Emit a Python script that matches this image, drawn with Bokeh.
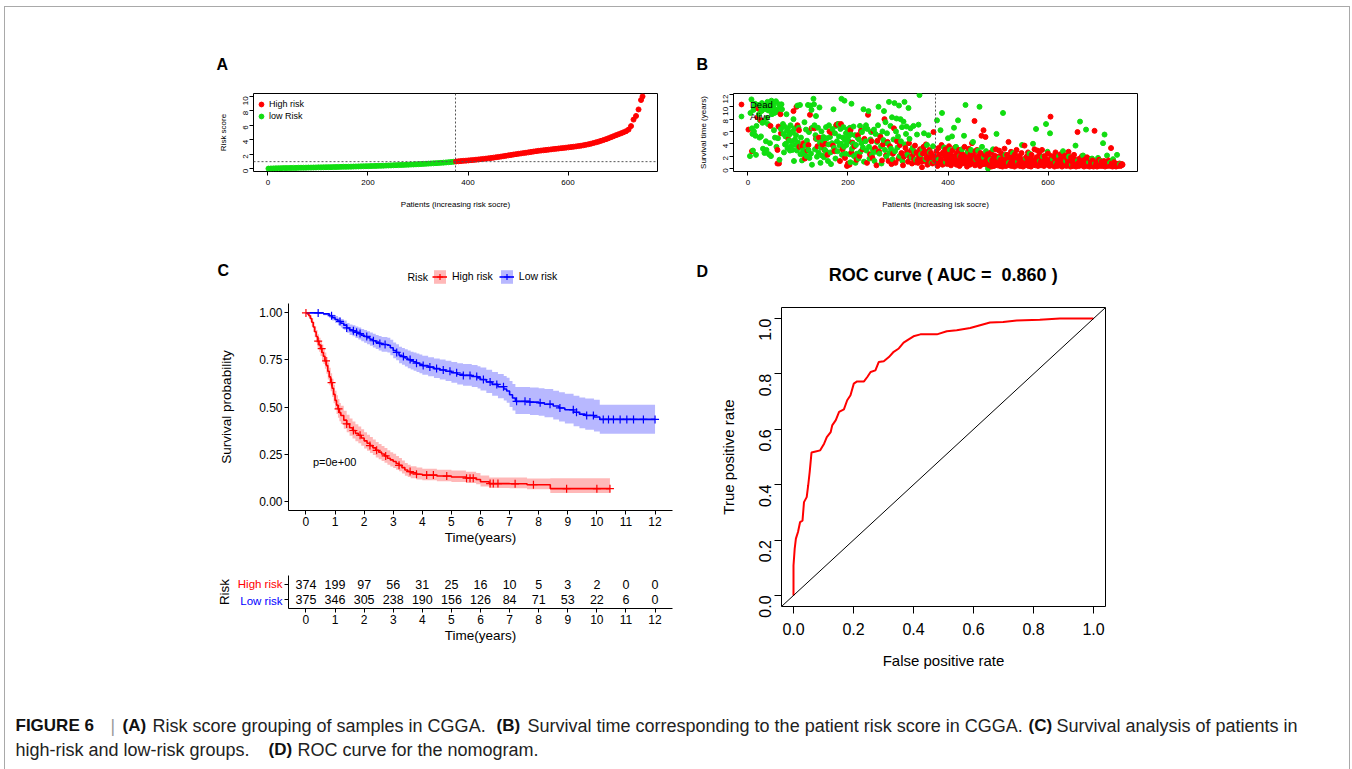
import math
from bokeh.plotting import figure
from bokeh.models import (Range1d, FixedTicker, Span, Legend, LegendItem,
                          ColumnDataSource, NumeralTickFormatter, Slope)
from bokeh.layouts import row, column
from bokeh.embed import file_html
from bokeh.resources import INLINE
from bokeh.core.properties import value

FONT = "Liberation Sans"
RED = "#FF0000"
GREEN = "#11DD11"
BLUE = "#0000FF"

# ---------------- Panel A: risk score per patient (sorted) ----------------
risk_patient = list(range(1, 750, 5)) + [749]
risk_score = [
    0.04, 0.06, 0.07, 0.08, 0.09, 0.10, 0.11, 0.11, 0.12, 0.13,
    0.14, 0.14, 0.15, 0.16, 0.16, 0.17, 0.18, 0.18, 0.19, 0.20,
    0.21, 0.21, 0.22, 0.23, 0.24, 0.24, 0.25, 0.26, 0.27, 0.28,
    0.29, 0.29, 0.30, 0.31, 0.32, 0.33, 0.34, 0.35, 0.36, 0.37,
    0.38, 0.39, 0.40, 0.41, 0.42, 0.43, 0.44, 0.46, 0.47, 0.48,
    0.50, 0.51, 0.52, 0.54, 0.55, 0.57, 0.58, 0.60, 0.61, 0.63,
    0.65, 0.67, 0.69, 0.71, 0.73, 0.75, 0.77, 0.79, 0.81, 0.84,
    0.86, 0.89, 0.92, 0.95, 0.98,
    1.02, 1.05, 1.08, 1.11, 1.14, 1.17, 1.20, 1.23, 1.27, 1.30,
    1.34, 1.38, 1.42, 1.46, 1.50, 1.55, 1.60, 1.65, 1.70, 1.76,
    1.81, 1.87, 1.92, 1.98, 2.03, 2.08, 2.13, 2.18, 2.23, 2.28,
    2.34, 2.39, 2.44, 2.49, 2.53, 2.57, 2.61, 2.65, 2.69, 2.73,
    2.77, 2.81, 2.85, 2.89, 2.93, 2.97, 3.01, 3.05, 3.10, 3.15,
    3.20, 3.26, 3.33, 3.40, 3.48, 3.57, 3.66, 3.76, 3.87, 3.98,
    4.10, 4.23, 4.37, 4.51, 4.65, 4.78, 4.91, 5.05, 5.20, 5.42,
    5.90, 6.80, 7.30, 8.20, 9.50, 10.0]
n_low = 375
risk_cutoff = 1.0

# ---------------- Panel B: survival time per patient ----------------
alive_points = [
    (4,2.0),(5,9.0),(7,11.2),(8,6.5),(9,5.6),(10,2.9),(11,9.5),(12,6.0),(13,10.0),(14,10.5),
    (15,5.3),(16,2.2),(17,6.9),(18,9.8),(20,10.3),(22,8.8),(23,5.0),(24,7.8),(25,10.0),(26,5.2),
    (27,9.3),(28,10.6),(29,7.4),(30,3.2),(31,9.9),(32,7.6),(33,2.5),(34,9.6),(35,10.2),(36,4.4),
    (37,3.0),(38,8.2),(39,10.8),(40,7.2),(41,9.4),(42,2.3),(43,10.1),(44,4.1),(45,9.8),(46,2.0),
    (47,11.0),(48,8.8),(49,9.4),(50,10.7),(51,10.3),(52,6.2),(53,9.0),(54,5.0),(55,9.6),(56,10.9),
    (57,3.5),(58,9.2),(60,4.9),(62,10.4),(63,1.4),(64,9.9),(66,6.4),(67,10.4),(68,9.6),
    (70,7.2),(71,5.6),(72,2.6),(73,6.8),(74,3.9),(75,5.2),(76,4.0),(77,8.8),(78,6.1),(79,3.3),
    (80,6.5),(82,4.5),(83,5.5),(84,2.9),(85,7.0),(86,3.6),(87,5.8),(88,4.4),(89,3.0),(90,6.0),
    (91,8.0),(92,1.2),(93,6.5),(94,4.7),(95,3.8),(96,5.4),(98,2.9),(99,10.2),(100,4.2),(101,6.6),
    (102,3.5),(104,10.3),(105,2.3),(106,5.0),(107,3.6),(108,1.3),(110,2.9),(112,2.3),(113,7.5),(115,3.7),
    (116,6.3),(117,2.0),(118,4.5),(120,10.3),(121,3.0),(122,5.9),(123,1.7),(125,10.2),(126,2.4),(127,9.5),
    (128,0.6),(129,6.6),
    (131,11.3),(132,10.4),(133,7.0),(134,3.1),(135,5.4),(136,8.5),(137,4.8),(138,1.9),(140,6.6),(141,2.6),
    (143,9.9),(144,4.2),(145,0.9),(146,3.4),(147,6.0),(148,2.1),(150,4.5),(151,5.1),(152,1.8),(154,3.0),
    (156,6.7),(157,2.7),(158,4.9),(160,1.2),(161,3.9),(162,7.0),(164,5.1),(165,2.6),(166,0.7),(168,4.1),
    (169,6.4),(171,9.6),(172,3.3),(174,5.7),(175,1.6),(176,6.9),(178,4.4),(179,2.8),(181,7.2),(182,5.2),
    (183,3.7),(185,6.4),(186,4.0),(187,11.3),(188,2.2),(190,5.0),(191,6.7),(192,3.5),(193,11.0),(194,4.6),
    (195,2.4),(196,5.7),(197,3.8),(198,4.9),(199,6.3),
    (201,5.2),(202,4.4),(203,2.3),(204,6.6),(205,1.0),(206,5.5),(207,10.5),(208,3.2),(210,4.0),(211,6.8),
    (212,2.0),(214,5.4),(215,0.9),(216,3.8),(218,2.4),(219,5.0),(221,1.6),(222,4.7),(224,6.9),(225,2.7),
    (227,4.1),(228,5.9),(230,3.4),(231,9.6),(232,1.1),(234,6.5),(235,4.4),(236,7.0),(237,2.9),(239,6.4),
    (241,9.3),(242,3.5),(243,1.6),(245,4.7),(246,5.9),(248,2.2),(250,3.0),(252,6.3),(253,1.2),(255,5.6),
    (256,2.7),(258,4.3),(260,7.0),(261,10.0),(263,2.4),(264,5.3),(266,3.6),(267,0.8),(269,6.0),(271,4.6),
    (272,9.3),(274,3.0),(275,7.5),(277,1.9),(278,5.7),(280,4.0),(282,10.8),(283,2.5),(285,6.9),(286,3.2),
    (288,8.3),(289,1.5),
    (291,4.7),(293,10.6),(294,2.8),(296,6.0),(297,8.1),(299,3.4),(300,5.2),(302,10.2),(303,2.0),(305,8.0),
    (306,4.4),(308,6.7),(309,1.2),(311,7.6),(313,10.8),(314,3.9),(316,5.6),(317,6.8),(319,2.2),(321,9.8),
    (323,4.8),(325,6.5),(327,1.8),(329,3.3),(331,6.9),(333,2.7),(336,1.4),(338,5.5),(341,7.1),(343,11.9),
    (346,2.3),(349,3.2),(352,5.7),(355,1.5),(358,3.8),(361,5.4),(364,2.6),(367,0.9),(370,3.6),(373,1.2),
    (378,7.8),(382,1.5),(385,6.2),(388,9.0),(392,3.4),(396,1.0),(400,4.9),(404,3.0),(408,5.2),(412,6.6),
    (416,3.5),(420,7.8),(424,2.0),(428,3.1),(432,5.3),(435,10.3),(440,2.7),(446,3.0),(450,4.3),(456,1.5),
    (460,2.9),(463,10.0),(468,3.5),(472,1.8),(476,2.8),(480,0.0),
    (485,1.4),(490,3.1),(497,5.6),(503,1.7),(510,9.0),(515,2.2),(522,0.9),(530,2.5),(540,1.1),(548,3.8),
    (556,1.6),(563,2.4),(570,4.0),(576,6.4),(584,1.2),(590,1.9),(596,7.2),(599,2.7),
    (604,5.7),(610,1.5),(616,0.9),(622,2.0),(630,2.8),(636,1.2),(642,1.9),(648,0.6),(655,3.7),(660,1.3),
    (664,7.6),(670,2.1),(676,6.3),(682,1.0),(688,1.6),(694,0.8),(700,1.7),(706,1.2),(710,4.1),(713,5.5),
    (718,2.1),(724,0.9),(730,1.5),(738,2.2),(744,0.7)]
dead_points = [
    (1,6.3),(8,2.8),(19,8.3),(21,9.7),(26,7.8),(45,6.9),(59,0.8),(59,3.0),(65,8.8),(61,6.8),
    (62,0.8),(66,5.7),(81,4.7),(91,9.3),(97,10.0),(99,7.0),(102,6.2),(103,3.5),(109,3.6),(111,4.1),
    (114,1.6),(119,2.9),(121,3.8),(124,8.7),(127,6.5),
    (133,6.5),(136,4.8),(139,3.6),(142,5.0),(149,3.9),(153,3.0),(155,4.0),(159,2.2),(163,6.0),(167,5.8),
    (170,3.7),(173,2.8),(177,7.1),(180,7.2),(184,1.2),(186,7.2),(189,3.1),(194,1.7),(198,0.4),(200,0.8),
    (203,0.6),(205,6.2),(207,2.6),(209,4.2),(213,3.6),(217,1.4),(220,5.4),(223,2.0),(226,6.1),(229,3.1),
    (233,4.8),(238,0.9),(240,8.7),(244,2.3),(247,4.4),(249,1.7),(251,6.0),(254,3.3),(257,0.5),(259,4.5),
    (262,2.8),(265,5.1),(268,1.3),(270,3.9),(273,8.0),(276,2.1),(279,4.3),(281,1.2),(284,3.6),(287,0.7),
    (290,2.4),(292,6.5),(295,0.9),(298,4.4),(301,1.6),(304,3.8),(307,2.5),(310,0.5),(312,1.9),(315,3.3),
    (318,2.6),(320,1.1),(322,4.1),(324,1.8),(326,2.9),(328,0.8),(330,2.2),(332,1.5),(334,3.7),(335,1.0),
    (337,2.6),(339,1.3),(340,0.9),(342,2.0),(344,3.1),(345,1.6),(347,1.1),(348,0.2),(350,2.4),(351,3.5),
    (353,1.2),(354,2.8),(356,3.9),(357,1.7),(359,0.6),(360,2.2),(362,1.0),(363,3.0),(365,1.4),(366,2.5),
    (368,1.8),(369,0.8),(371,5.9),(372,2.0),(374,1.3),
    (376,1.2),(377,2.8),(379,0.4),(380,1.9),(381,3.3),(383,0.9),(384,2.2),(386,1.4),(387,3.8),(389,0.6),
    (390,2.6),(391,1.1),(393,2.0),(394,0.8),(395,3.1),(397,1.5),(398,2.4),(399,0.7),(401,1.8),(402,3.6),
    (403,1.0),(405,2.3),(406,0.5),(407,1.6),(409,2.9),(410,1.2),(411,0.9),(413,2.0),(414,3.4),(415,1.4),
    (417,0.6),(418,2.5),(419,1.7),(421,1.0),(422,3.0),(423,0.4),(425,1.9),(426,2.7),(427,1.2),(429,0.8),
    (430,2.2),(431,1.5),(433,3.5),(434,0.9),(436,2.0),(437,1.3),(438,0.3),(439,2.6),(441,1.1),(442,3.2),
    (443,1.7),(444,0.6),(445,2.3),(447,1.4),(448,4.1),(449,0.9),(451,2.1),(452,1.2),(453,7.7),(454,0.5),
    (455,2.8),(457,1.6),(458,3.0),(459,0.8),(461,2.0),(462,1.3),(464,0.4),(465,2.5),(466,1.0),(467,5.3),
    (469,1.7),(470,0.7),(471,6.2),(473,2.2),(474,1.1),(475,5.1),(477,0.6),(478,1.5),(479,2.3),
    (481,1.0),(482,0.5),(483,1.8),(484,0.8),(486,2.6),(487,0.3),(488,1.3),(489,0.7),(491,1.6),(492,0.4),
    (493,2.1),(494,1.0),(495,0.6),(496,3.1),(498,1.2),(499,0.5),(500,1.9),(501,0.8),(502,2.9),(504,0.4),
    (505,1.4),(506,0.7),(507,2.4),(508,1.1),(509,0.3),(511,1.7),(512,0.6),(513,3.2),(514,1.0),(516,0.4),
    (517,1.5),(518,2.2),(519,0.8),(520,1.2),(521,4.3),(523,0.5),(524,1.8),(525,0.9),(526,2.7),(527,0.4),
    (528,1.3),(529,0.7),(531,1.9),(532,1.0),(533,0.3),(534,2.3),(535,1.4),(536,0.6),(537,3.0),(538,1.1),
    (539,0.5),(541,1.6),(542,0.8),(543,2.0),(544,0.4),(545,1.2),(546,0.7),(547,2.5),(549,1.0),(550,0.3),
    (551,1.5),(552,0.6),(553,3.7),(554,1.1),(555,0.5),(557,1.9),(558,0.8),(559,1.3),(560,2.6),(561,0.4),
    (562,1.0),(564,0.7),(565,1.6),(566,0.3),(567,2.2),(568,1.1),(569,0.6),(571,1.4),(572,0.8),(573,3.1),
    (574,1.2),(575,0.5),(577,1.8),(578,0.9),(579,2.9),(580,0.4),(581,1.3),(582,0.7),(583,2.3),(585,1.0),
    (586,0.5),(587,1.6),(588,3.0),(589,0.8),(591,1.2),(592,0.4),(593,2.0),(594,1.0),(595,0.6),(597,1.5),
    (598,0.9),(600,2.4),
    (601,0.7),(602,1.3),(603,0.4),(605,8.4),(606,1.0),(607,2.0),(608,0.5),(609,1.2),(611,0.8),(612,1.9),
    (613,0.3),(614,1.1),(615,2.6),(617,0.6),(618,1.4),(619,0.4),(620,1.8),(621,0.9),(623,0.5),(624,1.5),
    (625,2.3),(626,0.7),(627,1.0),(628,0.3),(629,1.7),(631,0.8),(632,1.3),(633,0.5),(634,2.1),(635,0.9),
    (637,0.4),(638,1.6),(639,0.7),(640,1.1),(641,2.7),(643,0.5),(644,1.2),(645,0.3),(646,1.8),(647,0.8),
    (649,1.0),(650,0.4),(651,1.5),(652,2.2),(653,0.6),(654,1.0),(656,0.3),(657,1.4),(658,0.7),(659,5.9),
    (661,0.9),(662,0.4),(663,1.6),(665,0.8),(666,1.2),(667,0.5),(668,2.0),(669,0.6),(671,1.1),(672,0.3),
    (673,1.4),(674,0.7),(675,1.0),(677,0.5),(678,1.8),(679,0.4),(680,1.2),(681,0.8),(683,0.3),(684,1.5),
    (685,0.6),(686,1.0),(687,0.4),(689,1.3),(690,0.7),(691,0.3),(692,1.1),(693,6.1),(695,0.5),(696,1.2),
    (697,0.8),(698,0.3),(699,1.0),(701,0.6),(702,1.4),(703,0.4),(704,0.9),(705,0.6),(707,1.1),(708,0.4),
    (709,0.8),(711,0.5),(712,1.2),(714,0.3),(715,0.9),(716,0.6),(717,1.0),(719,0.4),(720,0.7),(721,1.3),
    (722,0.5),(723,0.8),(725,0.4),(726,3.3),(727,0.6),(728,0.9),(729,0.3),(731,0.7),(732,1.0),(733,0.4),
    (734,0.6),(735,0.8),(736,0.3),(737,0.5),(739,0.7),(740,0.4),(741,0.6),(742,0.5),(743,0.8),(745,0.4),
    (746,0.6),(747,0.5),(748,0.7),(749,0.6)]

# ---------------- Panel C: Kaplan-Meier ----------------
high_t = [0, 0.05, 0.1, 0.15, 0.2, 0.25, 0.3, 0.35, 0.4, 0.45, 0.5, 0.55, 0.6, 0.65, 0.7, 0.75,
          0.8, 0.85, 0.9, 0.95, 1.0, 1.05, 1.1, 1.15, 1.2,
          1.3, 1.4, 1.5, 1.6, 1.7, 1.8, 1.9, 2.0, 2.1, 2.2, 2.3, 2.4, 2.5, 2.6, 2.7, 2.8, 2.9, 3.0,
          3.1, 3.2, 3.3, 3.4, 3.5, 3.6,
          3.8, 4.0, 4.5, 5.0, 5.5, 5.85, 6.0, 6.3, 7.0, 7.6, 8.4, 10.45]
high_s = [1.0, 0.995, 0.985, 0.97, 0.95, 0.925, 0.9, 0.875, 0.85, 0.83, 0.81, 0.79, 0.77, 0.745, 0.72, 0.69,
          0.66, 0.63, 0.6, 0.567, 0.535, 0.51, 0.49, 0.47, 0.455,
          0.43, 0.41, 0.39, 0.375, 0.36, 0.35, 0.335, 0.32, 0.307, 0.295, 0.283, 0.27, 0.26, 0.25, 0.24, 0.228, 0.219, 0.21,
          0.2, 0.19, 0.178, 0.165, 0.157, 0.15,
          0.143, 0.138, 0.133, 0.128, 0.122, 0.115, 0.103, 0.093, 0.092, 0.087, 0.066, 0.066]
high_lo = [1.0, 0.988, 0.973, 0.953, 0.928, 0.899, 0.87, 0.842, 0.815, 0.793, 0.771, 0.75, 0.729, 0.703, 0.677, 0.646,
           0.615, 0.584, 0.553, 0.52, 0.488, 0.463, 0.443, 0.424, 0.409,
           0.385, 0.366, 0.347, 0.332, 0.318, 0.308, 0.294, 0.28, 0.267, 0.256, 0.245, 0.232, 0.223, 0.213, 0.204, 0.193, 0.184, 0.176,
           0.167, 0.158, 0.147, 0.135, 0.128, 0.121,
           0.115, 0.111, 0.106, 0.101, 0.096, 0.089, 0.078, 0.069, 0.068, 0.063, 0.043, 0.043]
high_hi = [1.0, 1.0, 0.997, 0.987, 0.972, 0.952, 0.93, 0.909, 0.886, 0.868, 0.851, 0.832, 0.813, 0.789, 0.766, 0.737,
           0.708, 0.679, 0.65, 0.618, 0.586, 0.562, 0.542, 0.521, 0.506,
           0.48, 0.459, 0.439, 0.423, 0.408, 0.397, 0.382, 0.366, 0.353, 0.34, 0.327, 0.314, 0.303, 0.293, 0.282, 0.27, 0.26, 0.251,
           0.24, 0.229, 0.216, 0.202, 0.193, 0.185,
           0.178, 0.172, 0.167, 0.162, 0.156, 0.149, 0.136, 0.126, 0.125, 0.12, 0.122, 0.122]
high_cens = [0.0, 0.42, 0.54, 0.69, 0.88, 1.12, 1.4, 1.63, 1.86, 2.2, 2.43, 2.74, 3.2, 3.58, 3.8, 4.15,
             4.38, 4.84, 5.52, 5.64, 5.75, 6.33, 6.44, 6.6, 7.19, 7.82, 8.96, 10.0, 10.45]

low_t = [0, 0.6, 0.8, 0.9, 1.0, 1.1, 1.2, 1.3, 1.4, 1.5, 1.6, 1.7, 1.8, 1.9, 2.0, 2.1, 2.2, 2.3, 2.4, 2.5,
         2.6, 2.8, 2.9, 3.0, 3.1, 3.2, 3.3, 3.4, 3.5, 3.6, 3.7, 3.8, 3.9, 4.0, 4.2, 4.4, 4.6, 4.8, 5.0, 5.2,
         5.4, 5.7, 5.9, 6.0, 6.2, 6.4, 6.6, 6.8, 6.9, 7.0, 7.1, 7.2, 7.7, 8.0, 8.2, 8.5, 8.7, 8.9, 9.2, 9.4,
         9.6, 9.9, 10.1, 12.0]
low_s = [1.0, 0.995, 0.985, 0.975, 0.965, 0.955, 0.945, 0.935, 0.92, 0.91, 0.905, 0.897, 0.89, 0.882, 0.875, 0.868, 0.86, 0.852, 0.845, 0.838,
         0.832, 0.828, 0.815, 0.8, 0.79, 0.775, 0.768, 0.76, 0.752, 0.745, 0.74, 0.733, 0.727, 0.72, 0.712, 0.704, 0.697, 0.69, 0.682, 0.674,
         0.668, 0.662, 0.655, 0.646, 0.633, 0.62, 0.608, 0.596, 0.585, 0.565, 0.548, 0.53, 0.526, 0.522, 0.515, 0.505, 0.495, 0.485, 0.472, 0.462,
         0.455, 0.447, 0.434, 0.434]
low_lo = [1.0, 0.988, 0.973, 0.96, 0.947, 0.935, 0.923, 0.911, 0.894, 0.882, 0.876, 0.867, 0.859, 0.85, 0.842, 0.834, 0.825, 0.816, 0.808, 0.8,
          0.794, 0.789, 0.775, 0.759, 0.748, 0.732, 0.724, 0.715, 0.706, 0.699, 0.693, 0.686, 0.679, 0.672, 0.663, 0.654, 0.646, 0.638, 0.629, 0.62,
          0.613, 0.606, 0.598, 0.588, 0.574, 0.56, 0.547, 0.534, 0.522, 0.5, 0.482, 0.463, 0.458, 0.453, 0.445, 0.434, 0.423, 0.412, 0.398, 0.387,
          0.379, 0.37, 0.358, 0.358]
low_hi = [1.0, 1.0, 0.997, 0.99, 0.983, 0.975, 0.967, 0.959, 0.947, 0.939, 0.935, 0.928, 0.922, 0.915, 0.909, 0.903, 0.896, 0.889, 0.883, 0.877,
          0.872, 0.868, 0.857, 0.843, 0.834, 0.82, 0.814, 0.807, 0.8, 0.794, 0.79, 0.784, 0.779, 0.772, 0.765, 0.758, 0.752, 0.746, 0.739, 0.733,
          0.728, 0.723, 0.717, 0.71, 0.698, 0.686, 0.675, 0.665, 0.655, 0.638, 0.622, 0.606, 0.603, 0.6, 0.595, 0.587, 0.579, 0.57, 0.56, 0.551,
          0.545, 0.538, 0.512, 0.512]
low_cens = [0.42, 0.88, 1.17, 1.4, 1.63, 1.74, 1.86, 2.09, 2.32, 2.54, 2.72, 3.12, 3.35, 3.58, 3.8, 4.03,
            4.26, 4.49, 4.72, 4.95, 5.18, 5.41, 5.64, 5.87, 6.1, 6.33, 6.56, 6.79, 7.24, 7.53, 7.7, 8.05,
            8.39, 8.73, 9.19, 9.3, 9.65, 9.88, 10.22, 10.4, 10.57, 10.8, 11.03, 11.26, 11.6, 12.0]
p_value_text = "p=0e+00"
group_labels = ["High risk", "Low risk"]

# risk table
table_times = [0, 1, 2, 3, 4, 5, 6, 7, 8, 9, 10, 11, 12]
high_n = [374, 199, 97, 56, 31, 25, 16, 10, 5, 3, 2, 0, 0]
low_n = [375, 346, 305, 238, 190, 156, 126, 84, 71, 53, 22, 6, 0]

# ---------------- Panel D: ROC ----------------
roc_fpr = [0, 0, 0.004, 0.008, 0.015, 0.022, 0.03, 0.035, 0.044, 0.049, 0.054, 0.06, 0.074, 0.089, 0.102,
           0.111, 0.124, 0.129, 0.141, 0.152, 0.168, 0.179, 0.19, 0.201, 0.212, 0.235, 0.246, 0.257, 0.273,
           0.284, 0.301, 0.318, 0.334, 0.351, 0.367, 0.384, 0.4, 0.423, 0.478, 0.511, 0.544, 0.589, 0.622,
           0.655, 0.699, 0.744, 0.821, 0.888, 1.0]
roc_tpr = [0, 0.108, 0.169, 0.205, 0.229, 0.265, 0.27, 0.337, 0.355, 0.398, 0.446, 0.516, 0.52, 0.524, 0.548,
           0.572, 0.59, 0.614, 0.633, 0.663, 0.672, 0.705, 0.723, 0.765, 0.773, 0.773, 0.789, 0.807, 0.813,
           0.843, 0.846, 0.861, 0.88, 0.892, 0.913, 0.925, 0.936, 0.943, 0.943, 0.954, 0.958, 0.966, 0.976,
           0.986, 0.988, 0.993, 0.996, 1.0, 1.0]
auc_text = "ROC curve ( AUC = \u00a00.860 )"

# ---------------- Caption ----------------
caption_bold = [("FIGURE 6", 15, 725), ("(A)", 122, 725), ("(B)", 496, 725), ("(C)", 1028, 725), ("(D)", 268, 749)]
caption_norm = [("Risk score grouping of samples in CGGA.", 152, 725),
                ("Survival time corresponding to the patient risk score in CGGA.", 527, 725),
                ("Survival analysis of patients in", 1056, 725),
                ("high-risk and low-risk groups.", 15, 749),
                ("ROC curve for the nomogram.", 297, 749)]

assert len(risk_patient) == len(risk_score)
assert len(high_t) == len(high_s) == len(high_lo) == len(high_hi)
assert len(low_t) == len(low_s) == len(low_lo) == len(low_hi)
assert len(roc_fpr) == len(roc_tpr)


# ---------------- helpers ----------------
def make_fig(w, h, l, r, t, b, xr, yr):
    p = figure(width=w, height=h, x_range=Range1d(*xr), y_range=Range1d(*yr),
               output_backend="svg", toolbar_location=None,
               min_border_left=l, min_border_right=r, min_border_top=t, min_border_bottom=b)
    p.grid.visible = False
    p.background_fill_color = "white"
    p.border_fill_color = "white"
    return p


def strip(w, h, x0, y0, top=0, bottom=0):
    """A text-only figure whose data coordinates are the page pixels."""
    s = figure(width=w, height=h, x_range=Range1d(x0, x0 + w),
               y_range=Range1d(y0 + h - bottom, y0 + top),
               output_backend="svg", toolbar_location=None, min_border=0,
               min_border_top=top, min_border_bottom=bottom,
               x_axis_location=None, y_axis_location=None)
    s.grid.visible = False
    s.outline_line_color = None
    s.background_fill_color = "white"
    s.border_fill_color = "white"
    return s


def put_text(p, x, y, text, size, bold=False, color="black", align="left", baseline="middle", angle=0.0):
    p.text(x=[x], y=[y], text=[text], text_font=value(FONT), text_font_size=size,
           text_font_style="bold" if bold else "normal", text_color=color,
           text_align=align, text_baseline=baseline, angle=angle)


def style_axis(ax, tick_fs, label_fs, tick_out, lab_standoff, title_standoff, line=True):
    ax.axis_line_color = "black" if line else None
    ax.axis_line_width = 1
    ax.major_tick_line_color = "black"
    ax.major_tick_out = tick_out
    ax.major_tick_in = 0
    ax.minor_tick_line_color = None
    ax.major_label_text_font = FONT
    ax.major_label_text_font_size = tick_fs
    ax.major_label_text_color = "black"
    ax.major_label_standoff = lab_standoff
    ax.axis_label_text_font = FONT
    ax.axis_label_text_font_size = label_fs
    ax.axis_label_text_font_style = "normal"
    ax.axis_label_text_color = "black"
    ax.axis_label_standoff = title_standoff


def r_legend(renderer, items_idx, labels, fs, standoff, frame_h):
    items = [LegendItem(label=lab, renderers=[renderer], index=i) for lab, i in zip(labels, items_idx)]
    return Legend(items=items, location=(2, frame_h - 29), glyph_width=12, glyph_height=12,
                  label_height=12, label_standoff=standoff, spacing=0, padding=0, margin=0,
                  border_line_alpha=0, background_fill_alpha=0,
                  label_text_font=FONT, label_text_font_size=fs, label_text_color="black")


# ---------------- Row 1 header (panel letters) ----------------
s1 = strip(1344, 73, 5, 7)
put_text(s1, 216, 64, "A", "16px", bold=True)
put_text(s1, 696, 64, "B", "16px", bold=True)

# ---------------- Panel A ----------------
xr_ab = (-28.92, 778.92)
pa = make_fig(680, 157, 248, 28, 13, 66, xr_ab, (-0.36, 10.4))
pa.outline_line_color = "black"
pa.outline_line_width = 1
style_axis(pa.xaxis[0], "8px", "8px", 4, 4, 12, line=False)
style_axis(pa.yaxis[0], "8px", "8px", 4, 4, 10, line=False)
pa.xaxis.ticker = FixedTicker(ticks=[0, 200, 400, 600])
pa.yaxis.ticker = FixedTicker(ticks=[0, 2, 4, 6, 8, 10])
pa.yaxis.major_label_orientation = math.pi / 2
pa.xaxis.axis_label = "Patients (increasing risk socre)"
pa.yaxis.axis_label = "Risk score"
colors_a = [GREEN if pt_ <= n_low else RED for pt_ in risk_patient]
src_a = ColumnDataSource(dict(x=risk_patient, y=risk_score, c=colors_a))
ra = pa.scatter("x", "y", source=src_a, size=5, fill_color="c", line_color="c")
pa.add_layout(Span(location=n_low, dimension="height", line_dash="2 2", line_color="#555555", line_width=1))
pa.add_layout(Span(location=risk_cutoff, dimension="width", line_dash="2 2", line_color="#555555", line_width=1))
idx_red = next(i for i, c in enumerate(colors_a) if c == RED)
pa.add_layout(r_legend(ra, [idx_red, 0], ["High risk", "low Risk"], "9px", 2, 78))

# ---------------- Panel B ----------------
pb = make_fig(664, 157, 48, 212, 13, 66, xr_ab, (-0.5, 12.16))
pb.outline_line_color = "black"
pb.outline_line_width = 1
style_axis(pb.xaxis[0], "8px", "8px", 4, 4, 12, line=False)
style_axis(pb.yaxis[0], "8px", "8px", 4, 4, 10, line=False)
pb.xaxis.ticker = FixedTicker(ticks=[0, 200, 400, 600])
pb.yaxis.ticker = FixedTicker(ticks=[0, 2, 4, 6, 8, 10, 12])
pb.yaxis.major_label_orientation = math.pi / 2
pb.xaxis.axis_label = "Patients (increasing isk socre)"
pb.yaxis.axis_label = "Survival time (years)"
pts_b = sorted([(p_, t_, RED) for p_, t_ in dead_points] + [(p_, t_, GREEN) for p_, t_ in alive_points],
               key=lambda r: r[0])
src_b = ColumnDataSource(dict(x=[r[0] for r in pts_b], y=[r[1] for r in pts_b], c=[r[2] for r in pts_b]))
rb = pb.scatter("x", "y", source=src_b, size=5, fill_color="c", line_color="c")
pb.add_layout(Span(location=n_low, dimension="height", line_dash="2 2", line_color="#555555", line_width=1))
idx_dead = next(i for i, r in enumerate(pts_b) if r[2] == RED)
idx_alive = next(i for i, r in enumerate(pts_b) if r[2] == GREEN)
pb.add_layout(r_legend(rb, [idx_dead, idx_alive], ["Dead", "Alive"], "9.5px", 3, 78))

# ---------------- Row 2 header (letters, KM legend, ROC title) ----------------
s2 = strip(1344, 53, 5, 237)
put_text(s2, 217, 269.5, "C", "16px", bold=True)
put_text(s2, 696, 271, "D", "16px", bold=True)
put_text(s2, 943, 274, auc_text, "18px", bold=True, align="center")
put_text(s2, 407, 276, "Risk", "10.5px")
# legend keys reuse the KM series (they fall outside this strip's visible range)
key_items = []
for lab, col, (ts, ss, lo, hi, cs) in zip(group_labels, [RED, BLUE],
                                          [(high_t, high_s, high_lo, high_hi, high_cens),
                                           (low_t, low_s, low_lo, low_hi, low_cens)]):
    kb = s2.varea(x=ts, y1=lo, y2=hi, fill_color=col, fill_alpha=0.28)
    kl = s2.line(x=ts, y=ss, line_color=col, line_width=1.6)
    kc = s2.scatter(x=cs, y=[0.5] * len(cs), marker="cross", size=8, line_color=col, line_width=1.2)
    key_items.append(LegendItem(label=lab, renderers=[kb, kl, kc]))
s2.add_layout(Legend(items=key_items, orientation="horizontal", location=(432 - 5, 290 - 284.5),
                     glyph_width=15, glyph_height=17, label_height=17, label_standoff=5, spacing=6,
                     padding=0, margin=0, border_line_alpha=0, background_fill_alpha=0,
                     label_text_font=FONT, label_text_font_size="10.5px", label_text_color="black"))

# ---------------- Panel C ----------------
def surv_at(ts, ss, t):
    v = ss[0]
    for ti, si in zip(ts, ss):
        if ti <= t:
            v = si
    return v

pc = make_fig(680, 258, 283, 13, 13, 38, (-0.6, 12.6), (-0.05, 1.05))
pc.outline_line_color = None
style_axis(pc.xaxis[0], "12px", "13.5px", 4, 2, 1)
style_axis(pc.yaxis[0], "12px", "13.5px", 4, 2, 22)
pc.xaxis.ticker = FixedTicker(ticks=table_times)
pc.yaxis.ticker = FixedTicker(ticks=[0, 0.25, 0.5, 0.75, 1.0])
pc.yaxis.formatter = NumeralTickFormatter(format="0.00")
pc.xaxis.axis_label = "Time(years)"
pc.yaxis.axis_label = "Survival probability"
pc.varea_step(x=high_t, y1=high_lo, y2=high_hi, step_mode="after", fill_color=RED, fill_alpha=0.28)
pc.varea_step(x=low_t, y1=low_lo, y2=low_hi, step_mode="after", fill_color=BLUE, fill_alpha=0.28)
pc.step(x=high_t, y=high_s, mode="after", line_color=RED, line_width=1.6)
pc.step(x=low_t, y=low_s, mode="after", line_color=BLUE, line_width=1.6)
pc.scatter(x=high_cens, y=[surv_at(high_t, high_s, c) for c in high_cens], marker="cross",
           size=8, line_color=RED, line_width=1.2)
pc.scatter(x=low_cens, y=[surv_at(low_t, low_s, c) for c in low_cens], marker="cross",
           size=8, line_color=BLUE, line_width=1.2)
pc.text(x=[0.24], y=[0.206], text=[p_value_text], text_font=value(FONT), text_font_size="11px",
        text_baseline="middle", text_color="black")

# ---------------- Risk table ----------------
# left label strip shares the table's frame band (575..608) so that row alignment keeps it in place
sl = strip(278, 132, 5, 548, top=27, bottom=72)
put_text(sl, 282, 583.5, group_labels[0], "11.5px", color=RED, align="right")
put_text(sl, 282, 600, group_labels[1], "11.5px", color=BLUE, align="right")
put_text(sl, 224, 591.5, "Risk", "13.5px", align="center", angle=math.pi / 2)

pt = make_fig(402, 132, 5, 13, 27, 72, (-0.6, 12.6), (0.4, 2.6))
pt.outline_line_color = None
style_axis(pt.xaxis[0], "12px", "13.5px", 4, 2, 1)
style_axis(pt.yaxis[0], "12px", "13.5px", 4, 0, 0)
pt.xaxis.ticker = FixedTicker(ticks=table_times)
pt.yaxis.ticker = FixedTicker(ticks=[1, 2])
pt.yaxis.major_label_overrides = {1: "", 2: ""}
pt.xaxis.axis_label = "Time(years)"
pt.text(x=table_times + table_times, y=[2] * len(high_n) + [1] * len(low_n),
        text=[str(v) for v in high_n + low_n], text_font=value(FONT), text_font_size="12.5px",
        text_align="center", text_baseline="middle", text_color="black")

# ---------------- Panel D ----------------
pdx = make_fig(664, 390, 96, 244, 17, 74, (-0.04, 1.04), (-0.04, 1.04))
pdx.outline_line_color = "black"
pdx.outline_line_width = 1
style_axis(pdx.xaxis[0], "16px", "15px", 7, 9, 14, line=False)
style_axis(pdx.yaxis[0], "16px", "15px", 7, 9, 14, line=False)
pdx.xaxis.ticker = FixedTicker(ticks=[0, 0.2, 0.4, 0.6, 0.8, 1.0])
pdx.yaxis.ticker = FixedTicker(ticks=[0, 0.2, 0.4, 0.6, 0.8, 1.0])
pdx.xaxis.formatter = NumeralTickFormatter(format="0.0")
pdx.yaxis.formatter = NumeralTickFormatter(format="0.0")
pdx.yaxis.major_label_orientation = math.pi / 2
pdx.xaxis.axis_label = "False positive rate"
pdx.yaxis.axis_label = "True positive rate"
pdx.add_layout(Slope(gradient=1, y_intercept=0, line_color="black", line_width=1))
pdx.line(roc_fpr, roc_tpr, line_color=RED, line_width=2)

# ---------------- Caption ----------------
cap = strip(1344, 89, 5, 680)
cap.text(x=[c[1] for c in caption_bold], y=[c[2] for c in caption_bold], text=[c[0] for c in caption_bold],
         text_font=value(FONT), text_font_size="17px", text_font_style="bold",
         text_baseline="middle", text_color="#111111")
cap.text(x=[c[1] for c in caption_norm], y=[c[2] for c in caption_norm], text=[c[0] for c in caption_norm],
         text_font=value(FONT), text_font_size="18px", text_font_style="normal",
         text_baseline="middle", text_color="#222222")
cap.text(x=[110], y=[725], text=["|"], text_font=value(FONT), text_font_size="17.5px",
         text_baseline="middle", text_color="#9a9a9a")

layout = column(s1, row(pa, pb), s2,
                row(column(pc, row(sl, pt)), pdx), cap,
                styles={"margin-left": "4px", "margin-top": "6px",
                        "border-top": "1px solid #a9a9a9", "border-left": "1px solid #a9a9a9",
                        "border-right": "1px solid #a9a9a9"})

open("out.html", "w").write(file_html(layout, INLINE))
